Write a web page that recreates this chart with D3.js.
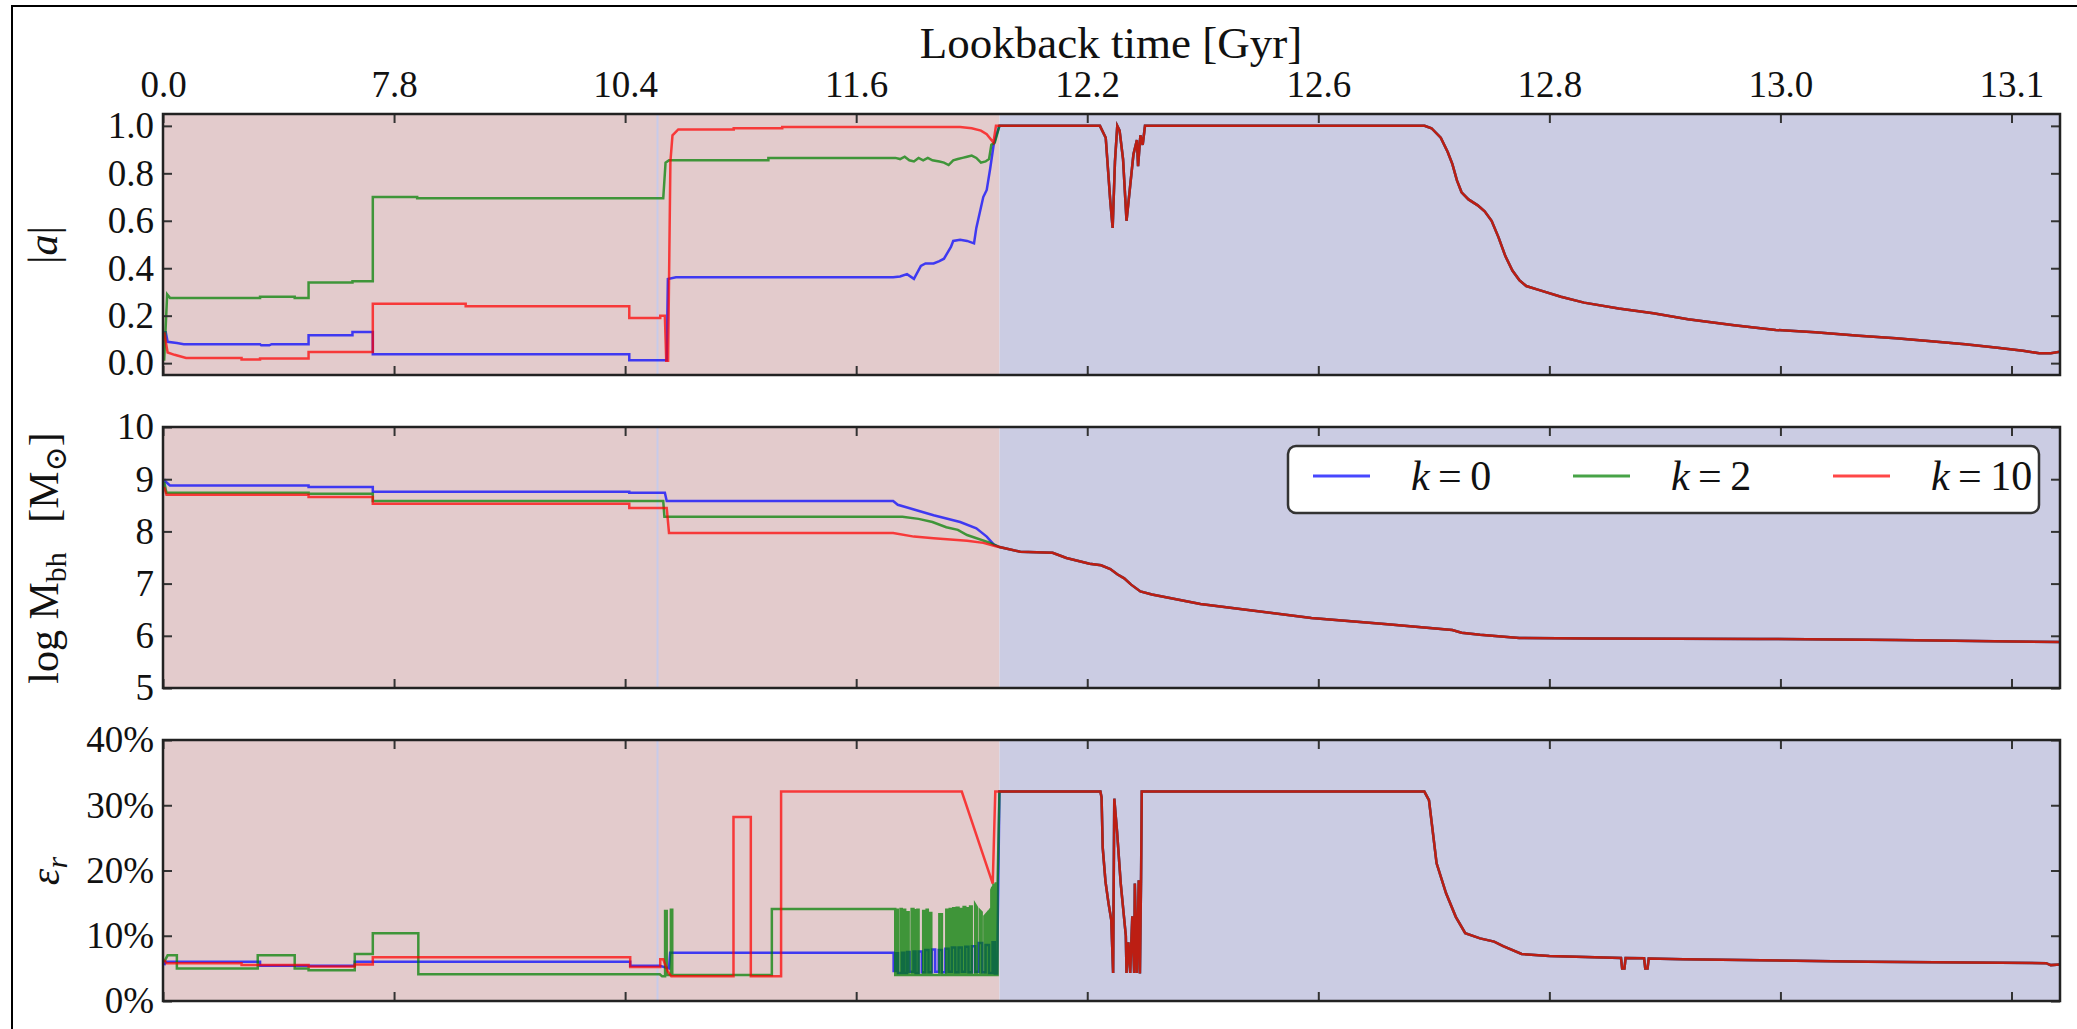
<!DOCTYPE html>
<html><head><meta charset="utf-8">
<script src="https://cdn.jsdelivr.net/npm/d3@7"></script>
<style>body{margin:0;background:#fff}svg{display:block}</style>
</head><body><svg id="c" width="2077" height="1029"></svg>
<script>
// ---------- axis / category data ----------
const zTicks = [0,1,2,3,4,5,6,7,8];
const lookbackLabels = ["0.0","7.8","10.4","11.6","12.2","12.6","12.8","13.0","13.1"];
const kValues = ["0","2","10"];
const lineColors = ["#0000ff","#008000","#ff0000"];
const zMax = 8.21;
const pinkEnd = 3.62;
const markerZ = 2.14;
const spinTicks = [0,0.2,0.4,0.6,0.8,1.0];
const massTicks = [5,6,7,8,9,10];
const effTicks = [0,10,20,30,40];

// ---------- spin |a| ----------
const spinK0 = [[0.005,0.13],[0.012,0.13],[0.02,0.09],[0.06,0.085],[0.09,0.08],[0.42,0.08],[0.425,0.075],[0.46,0.075],[0.47,0.08],[0.63,0.08],[0.63,0.118],[0.82,0.118],[0.82,0.131],[0.908,0.131],[0.908,0.037],[2.018,0.037],[2.018,0.012],[2.18,0.012],[2.185,0.355],[2.22,0.362],[3.16,0.362],[3.19,0.365],[3.22,0.375],[3.25,0.355],[3.28,0.41],[3.30,0.42],[3.335,0.42],[3.36,0.43],[3.38,0.44],[3.41,0.49],[3.42,0.515],[3.45,0.52],[3.48,0.515],[3.51,0.505],[3.52,0.57],[3.55,0.70],[3.565,0.73],[3.58,0.82],[3.595,0.92],[3.61,0.97],[3.62,1.0]];
const spinK2 = [[0.005,0.01],[0.018,0.29],[0.03,0.275],[0.42,0.275],[0.42,0.28],[0.57,0.28],[0.57,0.275],[0.63,0.275],[0.63,0.34],[0.82,0.34],[0.82,0.345],[0.908,0.345],[0.908,0.70],[1.10,0.70],[1.10,0.695],[2.165,0.695],[2.175,0.845],[2.19,0.855],[2.62,0.855],[2.62,0.865],[3.17,0.865],[3.19,0.86],[3.21,0.87],[3.23,0.855],[3.25,0.85],[3.27,0.865],[3.29,0.855],[3.31,0.865],[3.33,0.855],[3.36,0.85],[3.38,0.845],[3.40,0.835],[3.42,0.855],[3.44,0.86],[3.46,0.865],[3.48,0.87],[3.50,0.875],[3.52,0.865],[3.54,0.845],[3.56,0.85],[3.575,0.86],[3.585,0.92],[3.60,0.93],[3.62,1.0]];
const spinK10 = [[0.005,0.13],[0.02,0.045],[0.05,0.035],[0.10,0.022],[0.34,0.022],[0.34,0.015],[0.42,0.015],[0.42,0.02],[0.63,0.02],[0.63,0.047],[0.908,0.047],[0.908,0.25],[1.31,0.25],[1.31,0.24],[2.018,0.24],[2.018,0.19],[2.152,0.19],[2.152,0.20],[2.172,0.20],[2.178,0.01],[2.186,0.01],[2.196,0.85],[2.205,0.96],[2.23,0.985],[2.47,0.985],[2.47,0.99],[2.68,0.99],[2.68,0.995],[3.45,0.995],[3.50,0.99],[3.54,0.98],[3.565,0.965],[3.594,0.93],[3.605,1.0],[3.62,1.0]];
const spinShared = [[3.62,1.0],[4.055,1.0],[4.08,0.95],[4.10,0.68],[4.11,0.57],[4.12,0.85],[4.13,1.0],[4.14,0.98],[4.155,0.86],[4.17,0.60],[4.185,0.74],[4.20,0.88],[4.215,0.94],[4.22,0.83],[4.23,0.96],[4.24,0.92],[4.25,1.0],[5.46,1.0],[5.49,0.99],[5.53,0.95],[5.56,0.89],[5.58,0.84],[5.60,0.77],[5.62,0.72],[5.65,0.69],[5.69,0.665],[5.72,0.64],[5.75,0.60],[5.78,0.53],[5.81,0.45],[5.84,0.39],[5.87,0.35],[5.90,0.325],[5.95,0.31],[6.05,0.28],[6.15,0.255],[6.30,0.23],[6.45,0.21],[6.60,0.185],[6.80,0.16],[6.98,0.14],[7.15,0.13],[7.34,0.115],[7.50,0.105],[7.64,0.093],[7.80,0.08],[7.94,0.065],[8.05,0.052],[8.12,0.042],[8.17,0.042],[8.21,0.048]];

// ---------- log M_bh ----------
const massK0 = [[0.005,9.0],[0.012,8.95],[0.03,8.88],[0.63,8.88],[0.63,8.85],[0.908,8.85],[0.908,8.76],[2.018,8.76],[2.018,8.74],[2.172,8.74],[2.18,8.58],[3.16,8.58],[3.18,8.51],[3.25,8.42],[3.335,8.31],[3.45,8.18],[3.52,8.06],[3.565,7.9],[3.595,7.75],[3.62,7.70]];
const massK2 = [[0.005,8.95],[0.015,8.74],[0.63,8.74],[0.63,8.72],[0.908,8.72],[0.908,8.58],[2.165,8.58],[2.17,8.28],[3.20,8.28],[3.27,8.24],[3.33,8.18],[3.39,8.08],[3.44,8.03],[3.48,7.93],[3.58,7.78],[3.62,7.70]];
const massK10 = [[0.005,8.85],[0.015,8.70],[0.63,8.70],[0.63,8.66],[0.908,8.66],[0.908,8.53],[2.018,8.53],[2.018,8.45],[2.18,8.45],[2.19,7.97],[3.16,7.97],[3.25,7.90],[3.335,7.87],[3.48,7.82],[3.55,7.78],[3.60,7.72],[3.62,7.70]];
const massShared = [[3.62,7.70],[3.71,7.61],[3.85,7.59],[3.91,7.49],[4.01,7.38],[4.06,7.35],[4.10,7.28],[4.13,7.18],[4.16,7.10],[4.19,6.98],[4.23,6.85],[4.28,6.79],[4.49,6.61],[4.97,6.34],[5.30,6.22],[5.58,6.11],[5.62,6.06],[5.70,6.02],[5.87,5.96],[6.18,5.95],[6.91,5.94],[7.5,5.92],[8.21,5.88]];

// ---------- radiative efficiency (%) ----------
const effK0 = [[0.005,5.5],[0.012,6.0],[0.42,6.0],[0.42,5.4],[0.83,5.4],[0.83,6.0],[2.022,6.0],[2.022,5.4],[2.15,5.4],[2.19,5.0],[2.195,7.4],[3.162,7.4],[3.162,4.6],[3.171,4.6],[3.171,7.3],[3.181,7.3],[3.181,4.3],[3.198,4.3],[3.198,7.4],[3.208,7.4],[3.208,4.3],[3.22,4.3],[3.22,7.5],[3.231,7.5],[3.231,4.5],[3.248,4.5],[3.248,7.6],[3.257,7.6],[3.257,4.3],[3.27,4.3],[3.27,7.6],[3.284,7.6],[3.284,4.4],[3.299,4.4],[3.299,7.8],[3.313,7.8],[3.313,4.4],[3.328,4.4],[3.328,7.9],[3.342,7.9],[3.342,4.5],[3.357,4.5],[3.357,7.8],[3.371,7.8],[3.371,4.4],[3.386,4.4],[3.386,8.0],[3.40,8.0],[3.40,4.5],[3.414,4.5],[3.414,8.2],[3.429,8.2],[3.429,4.4],[3.443,4.4],[3.443,8.2],[3.457,8.2],[3.457,4.5],[3.472,4.5],[3.472,8.3],[3.486,8.3],[3.486,4.4],[3.501,4.4],[3.501,8.4],[3.515,8.4],[3.515,4.5],[3.53,4.5],[3.53,8.9],[3.545,8.9],[3.545,4.4],[3.56,4.4],[3.56,8.6],[3.575,8.6],[3.575,4.3],[3.59,4.3],[3.59,9.0],[3.60,9.0],[3.60,4.2],[3.61,4.2],[3.615,18],[3.62,32.1]];
const effK2 = [[0.005,6.0],[0.02,7.0],[0.06,7.0],[0.06,5.0],[0.41,5.0],[0.41,7.0],[0.57,7.0],[0.57,5.0],[0.63,5.0],[0.63,4.7],[0.83,4.7],[0.83,7.2],[0.908,7.2],[0.908,10.4],[1.105,10.4],[1.105,4.1],[2.15,4.1],[2.16,3.8],[2.173,3.8],[2.173,13.8],[2.18,13.8],[2.18,4.0],[2.198,4.0],[2.198,14.0],[2.204,14.0],[2.204,4.0],[2.635,4.0],[2.635,14.1],[3.169,14.1],[3.169,4.0],[3.175,4.0],[3.175,14.0],[3.18,14.0],[3.18,4.0],[3.192,4.0],[3.192,14.1],[3.197,14.1],[3.197,4.0],[3.205,4.0],[3.205,14.0],[3.212,14.0],[3.212,4.0],[3.22,4.0],[3.22,13.6],[3.227,13.6],[3.227,4.0],[3.24,4.0],[3.24,14.1],[3.248,14.1],[3.248,4.0],[3.255,4.0],[3.255,13.9],[3.26,13.9],[3.26,4.0],[3.265,4.0],[3.265,14.0],[3.27,14.0],[3.27,4.0],[3.29,4.0],[3.29,13.8],[3.299,13.8],[3.299,4.0],[3.305,4.0],[3.305,14.0],[3.31,14.0],[3.31,4.0],[3.318,4.0],[3.318,13.5],[3.325,13.5],[3.325,4.0],[3.36,4.0],[3.36,13.3],[3.371,13.3],[3.371,4.0],[3.39,4.0],[3.39,14.0],[3.40,14.0],[3.40,4.0],[3.405,4.0],[3.405,14.1],[3.414,14.1],[3.414,4.0],[3.42,4.0],[3.42,14.2],[3.428,14.2],[3.428,4.0],[3.435,4.0],[3.435,14.3],[3.443,14.3],[3.443,4.0],[3.45,4.0],[3.45,14.1],[3.457,14.1],[3.457,4.0],[3.465,4.0],[3.465,14.4],[3.472,14.4],[3.472,4.0],[3.48,4.0],[3.48,14.2],[3.486,14.2],[3.486,4.0],[3.493,4.0],[3.493,14.5],[3.50,14.5],[3.50,4.0],[3.515,4.0],[3.515,14.8],[3.522,14.4],[3.522,4.0],[3.535,4.0],[3.535,13.9],[3.543,13.6],[3.543,4.0],[3.555,4.0],[3.555,13.0],[3.565,13.4],[3.565,4.0],[3.572,4.0],[3.572,13.6],[3.58,14.0],[3.58,4.0],[3.585,4.0],[3.585,17.0],[3.59,17.5],[3.59,4.0],[3.594,4.0],[3.594,17.8],[3.598,17.8],[3.598,4.0],[3.604,4.0],[3.604,18.0],[3.608,18.0],[3.608,4.0],[3.612,4.0],[3.612,18.0],[3.62,32.1]];
const effK10 = [[0.005,6.3],[0.015,5.8],[0.34,5.8],[0.34,5.5],[0.63,5.5],[0.63,5.3],[0.83,5.3],[0.83,5.6],[0.908,5.6],[0.908,6.7],[2.022,6.7],[2.022,5.2],[2.152,5.2],[2.152,6.4],[2.165,6.4],[2.185,4.5],[2.20,3.8],[2.469,3.8],[2.469,28.2],[2.544,28.2],[2.544,3.8],[2.675,3.8],[2.675,32.1],[3.457,32.1],[3.591,18.0],[3.602,32.1],[3.62,32.1]];
const effShared = [[3.62,32.1],[4.057,32.1],[4.062,31.2],[4.067,23.5],[4.079,18.3],[4.092,15],[4.104,12.4],[4.112,4.3],[4.117,31],[4.129,26],[4.145,18],[4.167,10],[4.170,4.3],[4.178,9],[4.186,4.3],[4.195,13],[4.203,4.3],[4.206,18],[4.215,4.3],[4.223,18.5],[4.228,4.2],[4.233,19],[4.236,32.1],[5.459,32.1],[5.479,30.8],[5.512,21.1],[5.553,16.5],[5.595,12.9],[5.636,10.4],[5.70,9.6],[5.761,9.1],[5.80,8.4],[5.88,7.2],[6.0,6.9],[6.31,6.6],[6.315,5.0],[6.325,5.0],[6.33,6.6],[6.41,6.55],[6.415,5.0],[6.425,5.0],[6.43,6.5],[6.58,6.4],[7.38,6.0],[8.15,5.8],[8.17,5.5],[8.21,5.6]];

// ---------- drawing ----------
const FONT = "'Liberation Serif','DejaVu Serif',serif";
const svg = d3.select("#c");
const x = d3.scaleLinear().domain([0, zMax]).range([163, 2060]);

// outer frame
svg.append("rect").attr("x",12).attr("y",6).attr("width",2200).attr("height",1200)
  .attr("fill","none").attr("stroke","#000").attr("stroke-width",2);

const panels = [
  {top:114, bottom:375, domain:[-0.05,1.05], ticks:spinTicks, fmt:d3.format(".1f"), series:[spinK0,spinK2,spinK10], shared:spinShared},
  {top:427, bottom:688, domain:[5,10], ticks:massTicks, fmt:d3.format("d"), series:[massK0,massK2,massK10], shared:massShared},
  {top:740, bottom:1001, domain:[0,40], ticks:effTicks, fmt:d=>d+"%", series:[effK0,effK2,effK10], shared:effShared}
];

function styleAxis(g, size){
  g.attr("font-family", FONT).attr("font-size", size);
  g.select(".domain").remove();
  g.selectAll(".tick line").attr("stroke","#333").attr("stroke-width",2);
  g.selectAll(".tick text").attr("fill","#111");
}

panels.forEach((p, i) => {
  const y = d3.scaleLinear().domain(p.domain).range([p.bottom, p.top]);
  const [x0, x1] = x.range();
  const clipId = "clip" + i;
  svg.append("clipPath").attr("id", clipId).append("rect")
    .attr("x", x0).attr("y", p.top).attr("width", x1 - x0).attr("height", p.bottom - p.top);
  const g = svg.append("g").attr("clip-path", `url(#${clipId})`);
  g.append("rect").attr("x", x(0)).attr("y", p.top).attr("width", x(pinkEnd) - x(0))
    .attr("height", p.bottom - p.top).attr("fill", "#e3cbcc");
  g.append("rect").attr("x", x(pinkEnd)).attr("y", p.top).attr("width", x(zMax) - x(pinkEnd))
    .attr("height", p.bottom - p.top).attr("fill", "#cbcce3");
  g.append("line").attr("x1", x(markerZ)).attr("x2", x(markerZ)).attr("y1", p.top).attr("y2", p.bottom)
    .attr("stroke", "#c8cbe9").attr("stroke-width", 2);

  const line = d3.line().x(d => x(d[0])).y(d => y(d[1]));
  p.series.forEach((s, k) => {
    g.append("path").attr("d", line(s.concat(p.shared))).attr("fill", "none")
      .attr("stroke", lineColors[k]).attr("stroke-opacity", 0.72)
      .attr("stroke-width", 2.5).attr("stroke-linejoin", "miter");
  });

  // axes (inward ticks on all sides)
  const left = svg.append("g").attr("transform", `translate(${x0},0)`)
    .call(d3.axisLeft(y).tickValues(p.ticks).tickFormat(p.fmt).tickSize(-9).tickPadding(9));
  styleAxis(left, 37);
  const right = svg.append("g").attr("transform", `translate(${x1},0)`)
    .call(d3.axisRight(y).tickValues(p.ticks).tickFormat("").tickSize(-9));
  styleAxis(right, 37);
  const top = svg.append("g").attr("transform", `translate(0,${p.top})`)
    .call(d3.axisTop(x).tickValues(zTicks).tickSize(-9).tickPadding(17)
      .tickFormat(i === 0 ? ((d, j) => lookbackLabels[j]) : ""));
  styleAxis(top, 37);
  const bottom = svg.append("g").attr("transform", `translate(0,${p.bottom})`)
    .call(d3.axisBottom(x).tickValues(zTicks).tickSize(-9).tickFormat(""));
  styleAxis(bottom, 37);

  svg.append("rect").attr("x", x0).attr("y", p.top).attr("width", x1 - x0).attr("height", p.bottom - p.top)
    .attr("fill", "none").attr("stroke", "#222").attr("stroke-width", 2.5);
});

// title
svg.append("text").attr("x", 1111).attr("y", 58).attr("text-anchor", "middle")
  .attr("font-family", FONT).attr("font-size", 45).attr("fill", "#111").text("Lookback time [Gyr]");

// y labels
function ylab(cx, cy) {
  return svg.append("text").attr("transform", `translate(${cx},${cy}) rotate(-90)`)
    .attr("text-anchor", "middle").attr("font-family", FONT).attr("font-size", 42).attr("fill", "#111");
}
const l1 = ylab(57, 245);
l1.append("tspan").text("|");
l1.append("tspan").attr("font-style", "italic").text("a");
l1.append("tspan").text("|");

const l2 = ylab(58, 558);
l2.append("tspan").text("log M");
l2.append("tspan").attr("font-size", 30).attr("dy", 8).text("bh");
l2.append("tspan").attr("dy", -8).text("\u2002\u2009[M");
l2.append("tspan").attr("font-size", 30).attr("dy", 8).text("\u2299");
l2.append("tspan").attr("dy", -8).text("]");

const l3 = ylab(59, 871);
l3.append("tspan").attr("font-style", "italic").text("\u03b5");
l3.append("tspan").attr("font-style", "italic").attr("font-size", 30).attr("dy", 8).text("r");

// legend
const leg = svg.append("g");
leg.append("rect").attr("x", 1288).attr("y", 446).attr("width", 751).attr("height", 67).attr("rx", 8)
  .attr("fill", "#fff").attr("stroke", "#333").attr("stroke-width", 2.5);
const legX = [1313, 1573, 1833];
kValues.forEach((kv, k) => {
  leg.append("line").attr("x1", legX[k]).attr("x2", legX[k] + 57).attr("y1", 476).attr("y2", 476)
    .attr("stroke", lineColors[k]).attr("stroke-opacity", 0.72).attr("stroke-width", 3);
  const t = leg.append("text").attr("x", legX[k] + 98).attr("y", 490)
    .attr("font-family", FONT).attr("font-size", 42).attr("fill", "#111");
  t.append("tspan").attr("font-style", "italic").text("k");
  t.append("tspan").text("\u2009=\u2009" + kv);
});
</script></body></html>
